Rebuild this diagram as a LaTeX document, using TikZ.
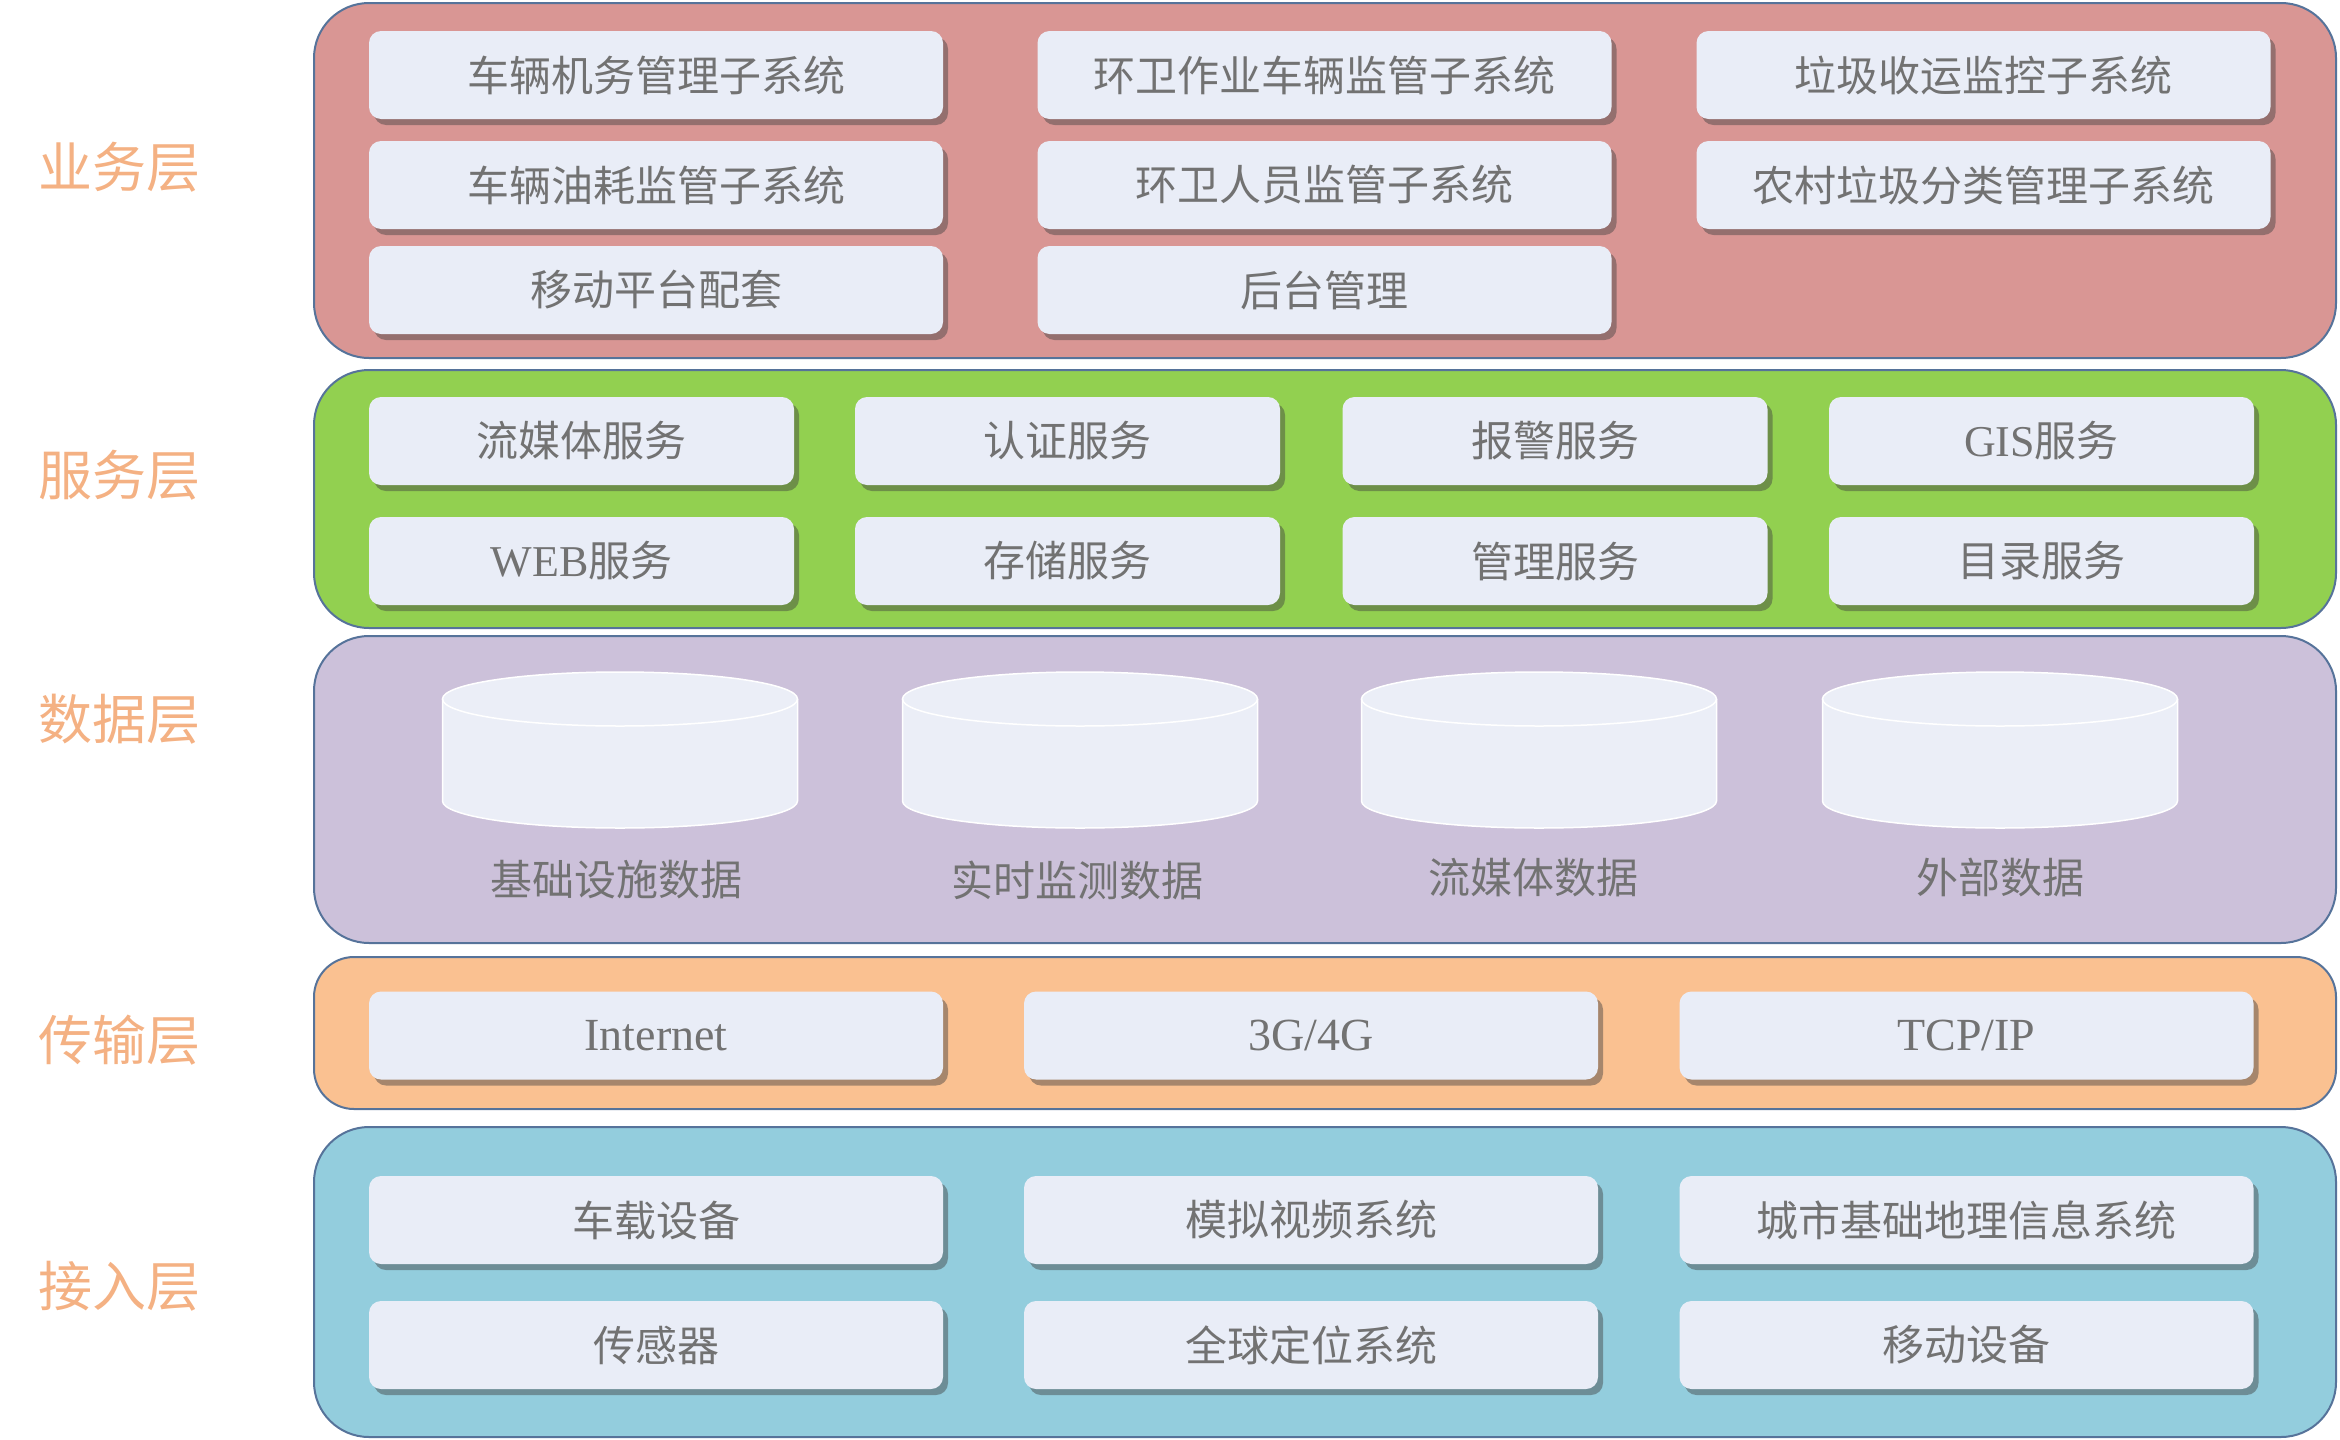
\documentclass[tikz,border=0pt]{standalone}
\usepackage{fontspec}
\newfontfamily\cjk{Noto Sans CJK SC}
\newfontfamily\latserif{Liberation Serif}
\usetikzlibrary{shadows}
\definecolor{redpanel}{HTML}{D99694}
\definecolor{greenpanel}{HTML}{92D050}
\definecolor{lavpanel}{HTML}{CCC1DA}
\definecolor{orangepanel}{HTML}{FAC191}
\definecolor{bluepanel}{HTML}{93CDDD}
\definecolor{boxfill}{HTML}{E9EDF7}
\definecolor{cylfill}{HTML}{EBEEF7}
\definecolor{panelline}{HTML}{56739A}
\definecolor{txtgray}{HTML}{727272}
\definecolor{laborange}{HTML}{F4B183}
\newcommand\mycyl[2]{%
  \fill[cylfill] (#1-177.5,699) -- (#1-177.5,801)
     arc[start angle=180,end angle=0,x radius=177.5,y radius=27]
     -- (#1+177.5,699)
     arc[start angle=0,end angle=-180,x radius=177.5,y radius=27] -- cycle;
  \draw[white,line width=1.5pt] (#1-177.5,699) -- (#1-177.5,801)
     arc[start angle=180,end angle=0,x radius=177.5,y radius=27]
     -- (#1+177.5,699);
  \draw[white,line width=1.5pt] (#1,699) ellipse[x radius=177.5,y radius=27];
  \coordinate (#2) at (#1,750);
}
\begin{document}
\begin{tikzpicture}[x=1pt,y=-1pt,
  panel/.style={draw=panelline,line width=2pt,rounded corners=55pt,minimum width=2022pt,inner sep=0pt},
  box/.style={fill=boxfill,rounded corners=12pt,minimum height=88pt,inner sep=0pt,
     drop shadow={shadow xshift=5pt,shadow yshift=-6pt,opacity=.45,fill=black!75},
     font=\fontsize{42}{50}\selectfont\cjk,text=txtgray},
  wbox/.style={box,minimum width=574pt},
  sbox/.style={box,minimum width=425pt},
  lab/.style={font=\fontsize{54}{60}\selectfont\cjk,text=laborange},
  dlab/.style={font=\fontsize{42}{50}\selectfont\cjk,text=txtgray},
  lat/.style={font=\fontsize{46}{50}\selectfont\latserif}
]
\useasboundingbox (0,0) rectangle (2340,1440);
% panels
\node[panel,fill=redpanel,minimum height=355pt] (p1) at (1325,180.5) {};
\node[panel,fill=greenpanel,minimum height=258pt] (p2) at (1325,499) {};
\node[panel,fill=lavpanel,minimum height=307pt] (p3) at (1325,789.5) {};
\node[panel,fill=orangepanel,minimum height=152pt,rounded corners=40pt] (p4) at (1325,1033) {};
\node[panel,fill=bluepanel,minimum height=310pt] (p5) at (1325,1282) {};
% layer labels
\node[lab] (l1) at (119,167) {业务层};
\node[lab] (l2) at (119,475) {服务层};
\node[lab] (l3) at (119,719) {数据层};
\node[lab] (l4) at (119,1040) {传输层};
\node[lab] (l5) at (119,1286) {接入层};
% business layer
\node[wbox] (b11) at (656,75) {车辆机务管理子系统};
\node[wbox] (b12) at (1324.5,75) {环卫作业车辆监管子系统};
\node[wbox] (b13) at (1983.5,75) {垃圾收运监控子系统};
\node[wbox] (b21) at (656,185) {车辆油耗监管子系统};
\node[wbox] (b22) at (1324.5,185) {环卫人员监管子系统};
\node[wbox] (b23) at (1983.5,185) {农村垃圾分类管理子系统};
\node[wbox] (b31) at (656,290) {移动平台配套};
\node[wbox] (b32) at (1324.5,290) {后台管理};
% service layer
\node[sbox] (s11) at (581.5,441) {流媒体服务};
\node[sbox] (s12) at (1067.5,441) {认证服务};
\node[sbox] (s13) at (1555,441) {报警服务};
\node[sbox] (s14) at (2041.5,441) {{\latserif\fontsize{44}{50}\selectfont GIS}服务};
\node[sbox] (s21) at (581.5,561) {{\latserif\fontsize{44}{50}\selectfont WEB}服务};
\node[sbox] (s22) at (1067.5,561) {存储服务};
\node[sbox] (s23) at (1555,561) {管理服务};
\node[sbox] (s24) at (2041.5,561) {目录服务};
% data layer
\mycyl{620}{c1}
\mycyl{1080}{c2}
\mycyl{1539}{c3}
\mycyl{2000}{c4}
\node[dlab] (d1) at (616,880) {基础设施数据};
\node[dlab] (d2) at (1077,880) {实时监测数据};
\node[dlab] (d3) at (1533,878) {流媒体数据};
\node[dlab] (d4) at (2000,878) {外部数据};
% transport layer
\node[wbox,lat,text=txtgray] (t1) at (656,1035.5) {Internet};
\node[wbox,lat,text=txtgray] (t2) at (1311,1035.5) {3G/4G};
\node[wbox,lat,text=txtgray] (t3) at (1966.5,1035.5) {TCP/IP};
% access layer
\node[wbox] (a11) at (656,1220) {车载设备};
\node[wbox] (a12) at (1311,1220) {模拟视频系统};
\node[wbox] (a13) at (1966.5,1220) {城市基础地理信息系统};
\node[wbox] (a21) at (656,1345) {传感器};
\node[wbox] (a22) at (1311,1345) {全球定位系统};
\node[wbox] (a23) at (1966.5,1345) {移动设备};
\end{tikzpicture}
\end{document}
